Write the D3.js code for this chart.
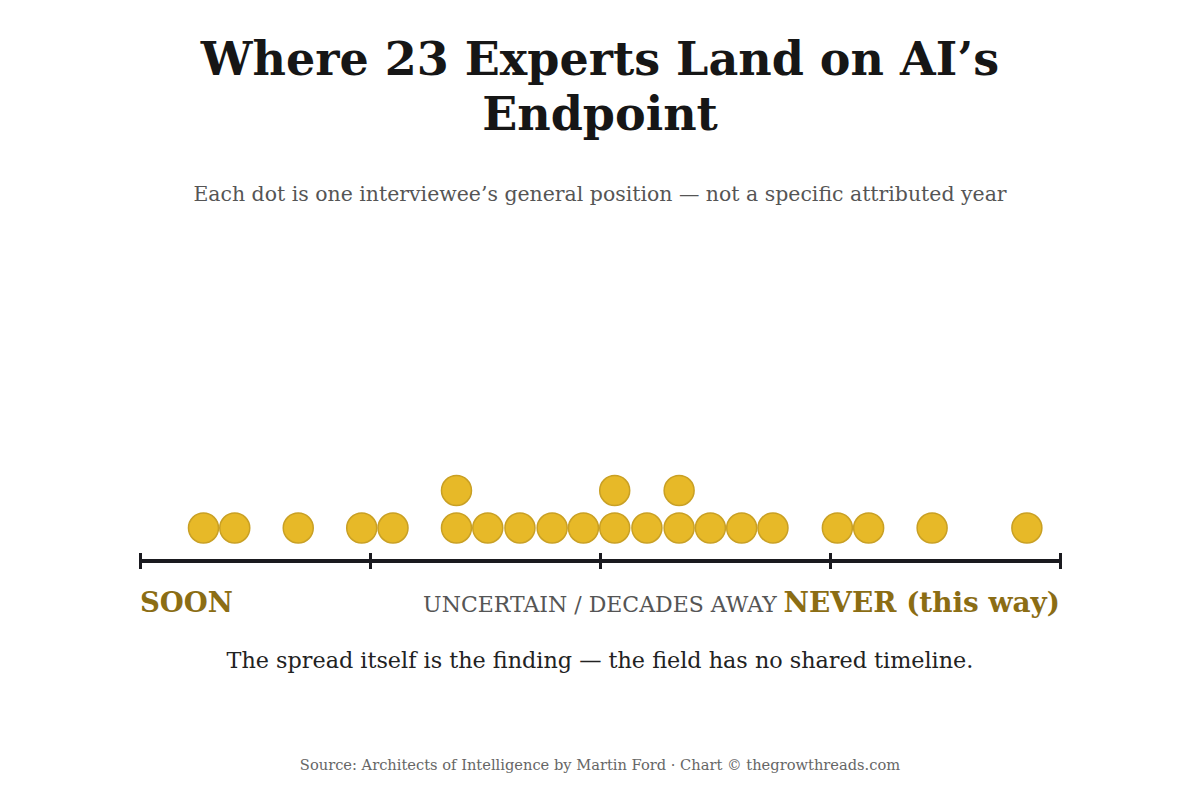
<!DOCTYPE html>
<html>
<head>
<meta charset="utf-8">
<script src="https://cdn.jsdelivr.net/npm/d3@7"></script>
<style>
  html, body { margin: 0; padding: 0; background: #ffffff; }
  svg { display: block; }
  text { font-family: "DejaVu Serif", Georgia, serif; }
</style>
</head>
<body>
<svg id="chart" width="1200" height="800"></svg>
<script>
// ---- Data ----
const titleLines = ["Where 23 Experts Land on AI\u2019s", "Endpoint"];
const subtitle = "Each dot is one interviewee\u2019s general position \u2014 not a specific attributed year";
const note = "The spread itself is the finding \u2014 the field has no shared timeline.";
const source = "Source: Architects of Intelligence by Martin Ford \u00b7 Chart \u00a9 thegrowthreads.com";
// position of each expert on a 0 (soon) to 100 (never) scale
const positions = [6.9, 10.3, 17.2, 24.1, 27.5, 34.4, 34.4, 37.8, 41.3, 44.8, 48.2,
                   51.6, 51.6, 55.1, 58.6, 58.6, 62.0, 65.4, 68.8, 75.8, 79.2, 86.1, 96.4];
const tickValues = [0, 25, 50, 75, 100];
const endLabels = ["SOON", "UNCERTAIN / DECADES AWAY", "NEVER (this way)"];

const svg = d3.select("#chart");
const W = 1200;
const x = d3.scaleLinear().domain([0, 100]).range([140, 1060]);
const axisY = 561;
const r = 15;
const rowStep = 37.5;

// Title
svg.append("g").selectAll("text").data(titleLines).join("text")
  .attr("x", W / 2)
  .attr("y", (d, i) => 75 + i * 55)
  .attr("text-anchor", "middle")
  .attr("font-size", 46)
  .attr("font-weight", "bold")
  .attr("fill", "#161616")
  .text(d => d);

svg.append("text")
  .attr("x", W / 2).attr("y", 201)
  .attr("text-anchor", "middle")
  .attr("font-size", 20.45)
  .attr("fill", "#555555")
  .text(subtitle);

// stacking
const counts = new Map();
const dots = positions.map(v => {
  const k = counts.get(v) || 0;
  counts.set(v, k + 1);
  return { v, level: k };
});

svg.append("g").selectAll("circle").data(dots).join("circle")
  .attr("cx", d => x(d.v))
  .attr("cy", d => 528 - d.level * rowStep)
  .attr("r", r)
  .attr("fill", "#E7B928")
  .attr("stroke", "#C9A024")
  .attr("stroke-width", 1.5);

// axis
const axis = d3.axisBottom(x).tickValues(tickValues).tickSize(0).tickFormat("");
const ag = svg.append("g").attr("transform", `translate(0,${axisY})`).call(axis);
ag.select(".domain").attr("stroke", "#1a1a1f").attr("stroke-width", 4).attr("d", `M${x(0)},0H${x(100)}`);
ag.selectAll(".tick line").attr("y1", -8).attr("y2", 8).attr("stroke", "#1a1a1f").attr("stroke-width", 3);

// end labels
svg.append("text").attr("x", x(0)).attr("y", 612)
  .attr("font-size", 27.5).attr("font-weight", "bold").attr("fill", "#8B6D14")
  .text(endLabels[0]);
svg.append("text").attr("x", x(50)).attr("y", 612).attr("text-anchor", "middle")
  .attr("font-size", 22).attr("fill", "#555555")
  .text(endLabels[1]);
svg.append("text").attr("x", x(100)).attr("y", 612).attr("text-anchor", "end")
  .attr("font-size", 27.9).attr("font-weight", "bold").attr("fill", "#8B6D14")
  .text(endLabels[2]);

svg.append("text").attr("x", W / 2).attr("y", 668).attr("text-anchor", "middle")
  .attr("font-size", 22.3).attr("fill", "#222222")
  .text(note);

svg.append("text").attr("x", W / 2).attr("y", 770).attr("text-anchor", "middle")
  .attr("font-size", 14.65).attr("fill", "#666666")
  .text(source);
</script>
</body>
</html>
